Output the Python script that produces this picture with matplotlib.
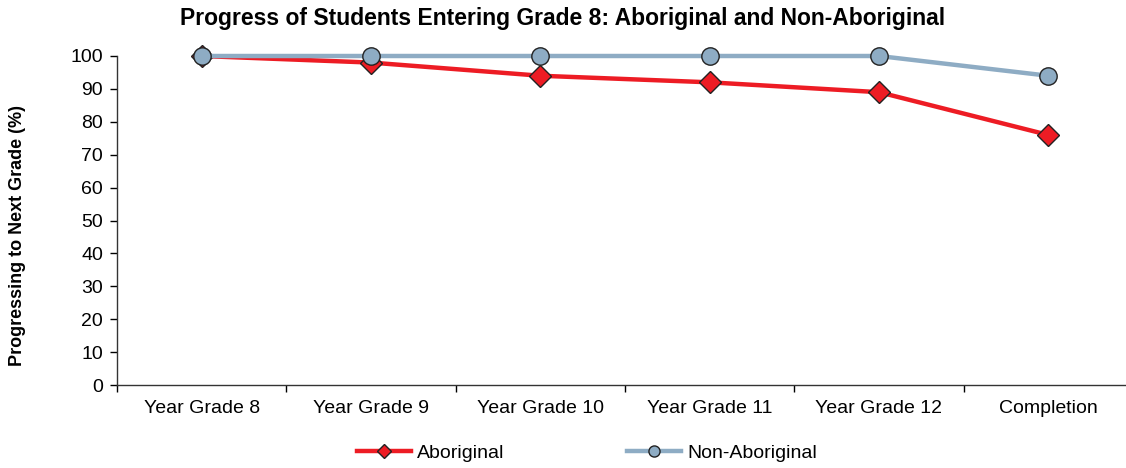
import matplotlib
matplotlib.use("Agg")
import matplotlib.pyplot as plt
from matplotlib.lines import Line2D

plt.rcParams['font.family'] = ['Liberation Sans', 'DejaVu Sans']

categories = ["Year Grade 8", "Year Grade 9", "Year Grade 10", "Year Grade 11", "Year Grade 12", "Completion"]
aboriginal = [100, 98, 94, 92, 89, 76]
non_aboriginal = [100, 100, 100, 100, 100, 94]
y_ticks = list(range(0, 101, 10))

red = "#ED1C24"
blue = "#8EACC4"
edge = "#222222"

fig = plt.figure(figsize=(11.26, 4.68), dpi=100)
ax = fig.add_axes([117/1126, 1-385/468, (1133-117)/1126, (385-56)/468])

x = list(range(len(categories)))
ax.plot(x, aboriginal, color=red, lw=3.2, marker="D", ms=11, mfc=red, mec=edge, mew=1.0,
        zorder=3, clip_on=False)
ax.plot(x, non_aboriginal, color=blue, lw=3.2, marker="o", ms=12.5, mfc=blue, mec=edge, mew=1.0,
        zorder=4, clip_on=False)

ax.set_xlim(-0.5, len(categories) - 0.5)
ax.set_ylim(0, 100)
ax.set_yticks(y_ticks)
ax.tick_params(axis='y', labelsize=14, length=5, width=1, direction='out', pad=5)
ax.set_xticks([i - 0.5 for i in range(len(categories) + 1)])
ax.set_xticklabels([])
ax.set_xticks(x, minor=True)
ax.set_xticklabels(categories, minor=True, fontsize=14)
ax.tick_params(axis='x', which='major', length=5, width=1, direction='out')
ax.tick_params(axis='x', which='minor', length=0, pad=11)
for s in ("top", "right"):
    ax.spines[s].set_visible(False)
for s in ("left", "bottom"):
    ax.spines[s].set_linewidth(1)
    ax.spines[s].set_color("#333333")

fig.text(18/1126, 1-236/468, "Progressing to Next Grade (%)", rotation=90,
         ha="center", va="center", fontsize=13, fontweight="bold")
fig.text(0.5, 1-18/468, "Progress of Students Entering Grade 8: Aboriginal and Non-Aboriginal",
         ha="center", va="center", fontsize=16.5, fontweight="bold")

handles = [
    Line2D([], [], color=red, lw=3.2, marker="D", ms=7, mfc=red, mec=edge, mew=1.0),
    Line2D([], [], color=blue, lw=3.2, marker="o", ms=8, mfc=blue, mec=edge, mew=1.0),
]
fig.legend(handles, ["Aboriginal", "Non-Aboriginal"], loc="center", bbox_to_anchor=(0.521, 1-453/468),
           ncol=2, frameon=False, fontsize=14, handlelength=2.8, handletextpad=0.3,
           columnspacing=6.3, borderaxespad=0)

fig.savefig("out.png", dpi=100)
